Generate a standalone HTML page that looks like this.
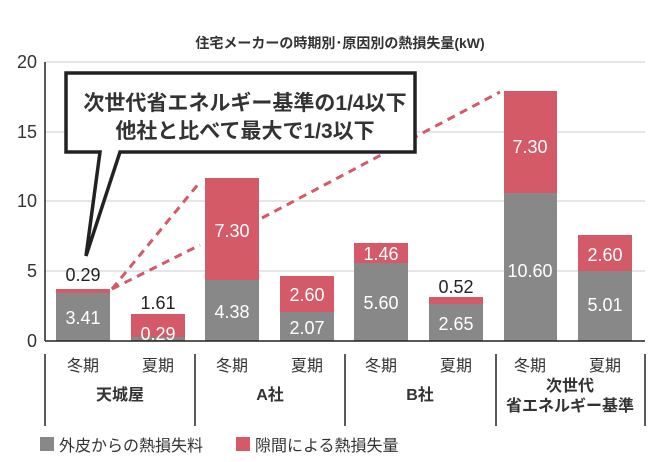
<html><head><style>body{margin:0;background:#fff}svg{font-family:"Liberation Sans","Noto Sans CJK JP",sans-serif}</style></head><body>
<svg width="672" height="462" xmlns="http://www.w3.org/2000/svg">
<text x="340" y="48" font-size="14" font-weight="bold" text-anchor="middle" fill="#333">住宅メーカーの時期別･原因別の熱損失量(kW)</text>
<g stroke="#ccc" stroke-width="1">
<line x1="45" y1="62" x2="645" y2="62"/><line x1="45" y1="132" x2="645" y2="132"/><line x1="45" y1="201" x2="645" y2="201"/><line x1="45" y1="271" x2="645" y2="271"/></g>
<g font-size="18" fill="#333" text-anchor="end"><text x="37" y="68">20</text><text x="37" y="138">15</text><text x="37" y="207">10</text><text x="37" y="277">5</text><text x="37" y="347">0</text></g>
<g fill="#888">
<rect x="56" y="293" width="54" height="48"/><rect x="131" y="337" width="54" height="4"/><rect x="205" y="280" width="54" height="61"/><rect x="280" y="312" width="54" height="29"/><rect x="354" y="263" width="54" height="78"/><rect x="429" y="304" width="54" height="37"/><rect x="504" y="193" width="53" height="148"/><rect x="578" y="271" width="54" height="70"/></g>
<g fill="#d45a68">
<rect x="56" y="289" width="54" height="4"/><rect x="131" y="314" width="54" height="23"/><rect x="205" y="178" width="54" height="102"/><rect x="280" y="276" width="54" height="36"/><rect x="354" y="243" width="54" height="20"/><rect x="429" y="297" width="54" height="7"/><rect x="504" y="91" width="53" height="102"/><rect x="578" y="235" width="54" height="36"/></g>
<line x1="45" y1="62" x2="45" y2="341" stroke="#222" stroke-width="1.5"/>
<line x1="45" y1="341" x2="645" y2="341" stroke="#222" stroke-width="1.5"/>
<g stroke="#d45a68" stroke-width="3" stroke-dasharray="8,6" fill="none">
<line x1="112" y1="289" x2="200" y2="182"/><line x1="112" y1="289" x2="200" y2="245"/><line x1="262" y1="218" x2="500" y2="92"/></g>
<g font-size="18" text-anchor="middle">
<text x="83" y="281" fill="#222">0.29</text><text x="83" y="324" fill="#fff">3.41</text>
<text x="158" y="309" fill="#222">1.61</text><text x="158" y="340" fill="#fff">0.29</text>
<text x="232" y="237" fill="#fff">7.30</text><text x="232" y="318" fill="#fff">4.38</text>
<text x="307" y="301" fill="#fff">2.60</text><text x="307" y="334" fill="#fff">2.07</text>
<text x="381" y="260" fill="#fff">1.46</text><text x="381" y="309" fill="#fff">5.60</text>
<text x="456" y="293" fill="#222">0.52</text><text x="456" y="330" fill="#fff">2.65</text>
<text x="530" y="153" fill="#fff">7.30</text><text x="530" y="277" fill="#fff">10.60</text>
<text x="605" y="261" fill="#fff">2.60</text><text x="605" y="311" fill="#fff">5.01</text></g>
<path d="M66 73 H415 V152 H120 L86 256 L100 152 H66 Z" fill="#fff" stroke="#222" stroke-width="3.5" stroke-linejoin="miter"/>
<g font-size="21" font-weight="bold" fill="#333" text-anchor="middle"><text x="245" y="110">次世代省エネルギー基準の1/4以下</text><text x="245" y="138">他社と比べて最大で1/3以下</text></g>
<g stroke="#222" stroke-width="1.5"><line x1="45" y1="354" x2="45" y2="426"/><line x1="195" y1="354" x2="195" y2="426"/><line x1="345" y1="354" x2="345" y2="426"/><line x1="496" y1="354" x2="496" y2="426"/><line x1="645" y1="354" x2="645" y2="426"/></g>
<g font-size="16" fill="#333" text-anchor="middle">
<text x="83" y="371">冬期</text><text x="158" y="371">夏期</text><text x="232" y="371">冬期</text><text x="307" y="371">夏期</text><text x="381" y="371">冬期</text><text x="456" y="371">夏期</text><text x="530" y="371">冬期</text><text x="605" y="371">夏期</text></g>
<g font-size="16" font-weight="bold" fill="#333" text-anchor="middle">
<text x="120" y="400">天城屋</text><text x="270" y="400">A社</text><text x="420" y="400">B社</text><text x="570" y="391">次世代</text><text x="570" y="411">省エネルギー基準</text></g>
<rect x="40" y="437" width="14" height="14" fill="#888"/><text x="59" y="451" font-size="16" fill="#333">外皮からの熱損失料</text>
<rect x="236" y="437" width="14" height="14" fill="#d45a68"/><text x="255" y="451" font-size="16" fill="#333">隙間による熱損失量</text>
</svg></body></html>
